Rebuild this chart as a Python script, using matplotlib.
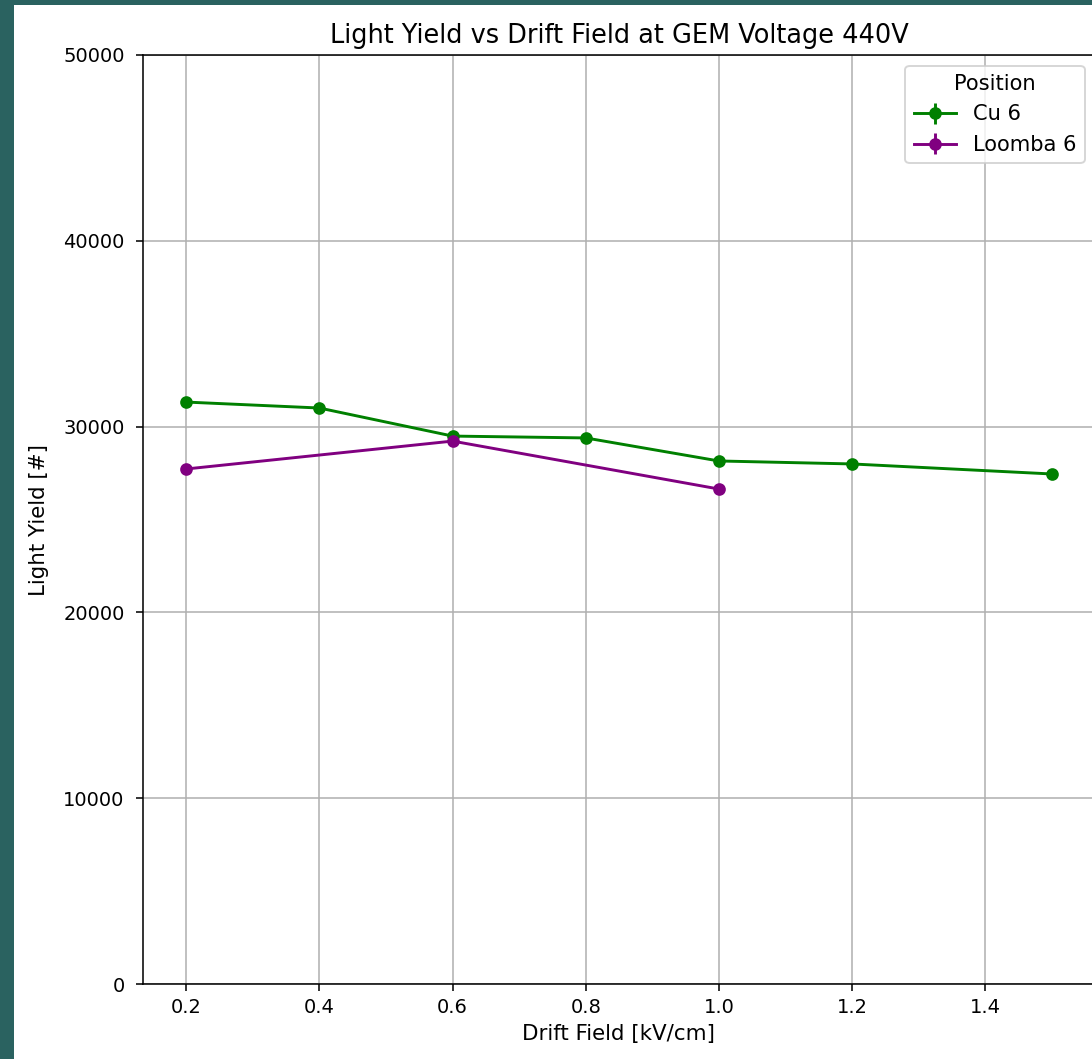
import matplotlib.pyplot as plt
import matplotlib.patches as mpatches

# Cu 6 position
cu_field = [0.2, 0.4, 0.6, 0.8, 1.0, 1.2, 1.5]
cu_yield = [31320, 31000, 29490, 29390, 28150, 27990, 27450]
cu_err = [200, 200, 200, 200, 200, 200, 200]

# Loomba 6 position
loomba_field = [0.2, 0.6, 1.0]
loomba_yield = [27720, 29220, 26640]
loomba_err = [200, 200, 200]

fig = plt.figure(figsize=(1092 / 140, 1059 / 140), dpi=140)
fig.patch.set_facecolor("#2a6260")

# white notebook output area (screenshot crop)
fig.patches.append(
    mpatches.Rectangle((14 / 1092, 0), 1, 1 - 5 / 1059,
                       transform=fig.transFigure, facecolor="white",
                       edgecolor="none", zorder=-10)
)

ax = fig.add_axes([143 / 1092, 75 / 1059, 952 / 1092, 929 / 1059])

ax.errorbar(cu_field, cu_yield, yerr=cu_err, fmt="-o", color="green",
            markersize=5.5, label="Cu 6")
ax.errorbar(loomba_field, loomba_yield, yerr=loomba_err, fmt="-o", color="purple",
            markersize=5.5, label="Loomba 6")

ax.set_ylim(0, 50000)
ax.set_title("Light Yield vs Drift Field at GEM Voltage 440V", fontsize=13.2)
ax.set_xlabel("Drift Field [kV/cm]", fontsize=11)
ax.set_ylabel("Light Yield [#]", fontsize=11, labelpad=7)
ax.tick_params(axis="y", pad=6)
ax.grid(True)
ax.legend(title="Position", loc="upper right", fontsize=10.8, title_fontsize=10.8)

fig.savefig("out.png", dpi=140, facecolor=fig.get_facecolor())
plt.close(fig)
